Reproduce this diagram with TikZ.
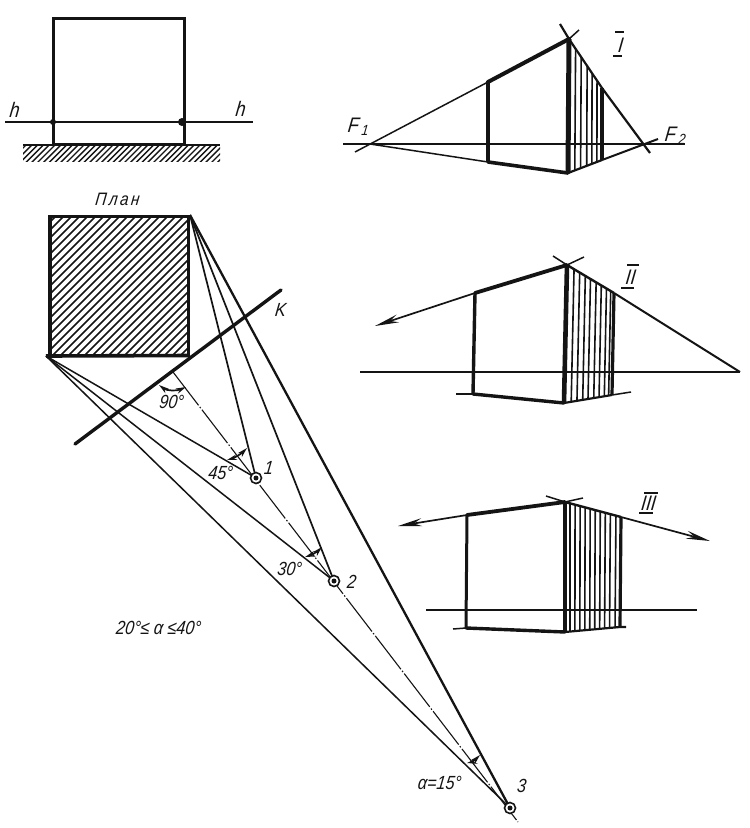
\documentclass[tikz,border=0pt]{standalone}
\usepackage{fontspec}
\setmainfont{Liberation Sans}[ItalicFeatures={FakeStretch=0.85,FakeSlant=0.12}]
\usetikzlibrary{arrows.meta,calc}
\definecolor{ink}{HTML}{141414}
\tikzset{
  thinl/.style={draw=ink,line width=1.5pt},
  medl/.style={draw=ink,line width=2.2pt},
  thickl/.style={draw=ink,line width=4pt,line cap=round},
  edgel/.style={draw=ink,line width=3.4pt},
  hatchl/.style={draw=ink,line width=1.6pt},
  shadel/.style={draw=ink,line width=1.4pt},
  axisl/.style={draw=ink,line width=1.1pt,dash pattern=on 42pt off 2pt on 1.5pt off 2pt},
  arrowl/.style={draw=ink,line width=1.7pt,-{Stealth[length=24pt,width=8pt,inset=8pt]}},
  arcl/.style={draw=ink,line width=1.7pt,{Stealth[length=10pt,width=5.5pt]}-{Stealth[length=10pt,width=5.5pt]}},
  lab/.style={font=\itshape\fontsize{19}{19}\selectfont,text=ink,inner sep=0pt},
  biglab/.style={font=\itshape\fontsize{21}{21}\selectfont,text=ink,inner sep=0pt},
  marker/.style={circle,draw=ink,line width=1.6pt,minimum size=11pt,inner sep=0pt,fill=white},
  dotm/.style={circle,fill=ink,minimum size=5pt,inner sep=0pt}
}
\begin{document}
\begin{tikzpicture}[x=1pt,y=-1pt]
\useasboundingbox[fill=white] (0,0) rectangle (750,828);
% ---------- elevation
\begin{scope}
 \clip (23,146) rectangle (220,161);
 \foreach \k in {0,5.8,...,230}{\draw[shadel] (8+\k,163)--(26+\k,145);}
\end{scope}
\draw[thinl,line width=1.6pt] (23,145)--(220,145);
\draw[edgel,line width=3pt] (53.5,145)--(53.5,18)--(184.5,18)--(184.5,145);
\draw[medl] (53,144.5)--(183,144.5);
\draw[thinl] (5,122)--(253,122);
\fill[ink] (53,122) circle (3) (182,122) circle (4);
\node[biglab] (hl) at (14,110) {h};
\node[biglab] (hr) at (240,109) {h};
% ---------- plan
\node[lab,font=\itshape\fontsize{18}{18}\selectfont] (plan) at (117,199) {\addfontfeature{LetterSpace=14}План};
\begin{scope}
 \clip (50,216) rectangle (188,356);
 \foreach \k in {0,8,...,295}{\draw[shadel,line width=1.7pt] (\k-100,356)--(\k+41,215);}
\end{scope}
\coordinate (PTR) at (190,215);
\coordinate (PBL) at (46,356);
\coordinate (P1) at (256,478);
\coordinate (P2) at (334,581);
\coordinate (P3) at (510,808);
\coordinate (KA) at (75,444);
\coordinate (KB) at (281,290);
\coordinate (AX) at (173,372);
\coordinate (AE) at (518,822);
\draw[axisl] (AX)--(AE);
\draw[thinl,line width=1.7pt] (PTR)--(P1);
\draw[thinl,line width=1.7pt] (PTR)--(P2);
\draw[thinl,line width=2.3pt] (PTR)--(P3);
\draw[thinl] (PBL)--(P1);
\draw[thinl] (PBL)--(P2);
\draw[thinl] (PBL)--(P3);
\draw[edgel,line width=3.6pt] (50,355.5) rectangle (188.5,216.5);
\draw[edgel,line width=3.6pt] (PBL)--(190,355.5);
\draw[thickl,line width=3.4pt] (KA)--(KB);
\node[marker] (M1) at (P1) {}; \node[dotm] at (P1) {};
\node[marker] (M2) at (P2) {}; \node[dotm] at (P2) {};
\node[marker] (M3) at (P3) {}; \node[dotm] at (P3) {};
\draw[arcl] (159,385) .. controls (167,391) and (177,391) .. (186,387);
\draw[arcl] (227,460) .. controls (234,458) and (241,454) .. (247,448);
\draw[arcl] (305,557) .. controls (311,555) and (317,552) .. (322,547);
\draw[arcl] (467,763) .. controls (472,762) and (476,759) .. (480,755);
\node[lab] (t90) at (171,402) {90°};
\node[lab] (t45) at (220,473) {45°};
\node[lab] (t1) at (268,468) {1};
\node[lab] (t30) at (289,569) {30°};
\node[lab] (t2) at (351,582) {2};
\node[lab] (t3) at (521,786) {3};
\node[lab] (ta) at (439,783) {α=15°};
\node[lab] (tk) at (280,310) {K};
\node[lab] (trange) at (158,628) {20°≤ α ≤40°};
% ---------- figure I
\coordinate (Ff) at (370,144); \coordinate (Fs) at (643,144);
\coordinate (Int) at (569,39); \coordinate (Inb) at (568,173);
\coordinate (Ilt) at (488,82); \coordinate (Ilb) at (488,162);
\coordinate (Irt) at (602,88); \coordinate (Irb) at (602,160);
\foreach \t in {0.2,0.37,0.55,0.7,0.85}{\draw[hatchl] ($(Int)!\t!(Irt)$)--($(Inb)!\t!(Irb)$);}
\draw[thinl] (343,144)--(685,144);
\draw[thinl] (355,152)--(Ilt);
\draw[thickl] (Ilt)--(Int);
\draw[thinl] (Int)--(579,30);
\draw[thinl,line width=2.2pt] (560,24)--(Int)--(Irt)--(650,153);
\draw[thinl] (Ff)--(Ilb);
\draw[thickl,line width=3.6pt] (Ilb)--(Inb);
\draw[thinl,line width=2.2pt] (Inb)--(Irb);
\draw[thinl,line width=2pt] (Irb)--(658,139);
\draw[edgel,line width=3.6pt] (Ilt)--(Ilb);
\draw[edgel,line width=5pt] (Int)--(Inb);
\draw[edgel,line width=3.2pt] (Irt)--(Irb);
\node[biglab] (tf1) at (358,127) {F\kern3pt\textsubscript{1}};
\node[biglab] (tf2) at (675,136) {F\kern3pt\textsubscript{2}};
\node[biglab] (tI) at (620,45) {I};
\draw[thinl] (615,32)--(624,32) (613,56)--(622,56);
% ---------- figure II
\coordinate (IInt) at (567,265); \coordinate (IInb) at (564,403);
\coordinate (IIlt) at (475,293); \coordinate (IIlb) at (473,394);
\coordinate (IIrt) at (614,293); \coordinate (IIrb) at (612,395);
\foreach \t in {0.15,0.27,0.39,0.5,0.62,0.73,0.84,0.93}{\draw[hatchl] ($(IInt)!\t!(IIrt)$)--($(IInb)!\t!(IIrb)$);}
\draw[thinl] (360,372)--(740,372);
\draw[arrowl] (IIlt)--(375,326);
\draw[thickl,line width=3.8pt] (IIlt)--(IInt);
\draw[thinl] (IInt)--(584,257);
\draw[thinl] (553,256)--(IInt);
\draw[thinl,line width=2.4pt] (IInt)--(IIrt);
\draw[thinl,line width=2pt] (IIrt)--(740,372);
\draw[thinl] (456,394)--(IIlb);
\draw[thickl,line width=3.4pt] (IIlb)--(IInb);
\draw[thinl,line width=2.2pt] (IInb)--(IIrb);
\draw[thinl] (IIrb)--(631,392);
\draw[edgel] (IIlt)--(IIlb);
\draw[edgel,line width=4.6pt] (IInt)--(IInb);
\draw[edgel,line width=3.2pt] (IIrt)--(IIrb);
\node[biglab] (tII) at (630,277) {II};
\draw[thinl] (627,265)--(639,265) (621,288)--(634,288);
% ---------- figure III
\coordinate (IIInt) at (565,502); \coordinate (IIInb) at (565,632);
\coordinate (IIIlt) at (467,515); \coordinate (IIIlb) at (466,628);
\coordinate (IIIrt) at (621,517); \coordinate (IIIrb) at (620,627);
\foreach \t in {0.09,0.18,0.27,0.36,0.45,0.54,0.63,0.72,0.81,0.91}{\draw[hatchl] ($(IIInt)!\t!(IIIrt)$)--($(IIInb)!\t!(IIIrb)$);}
\draw[thinl] (426,610)--(697,610);
\draw[arrowl] (IIIlt)--(398,526);
\draw[arrowl] (IIIrt)--(710,541);
\draw[thickl,line width=3.8pt] (IIIlt)--(IIInt);
\draw[thinl] (546,496)--(IIInt)--(583,498);
\draw[thinl,line width=2.4pt] (IIInt)--(IIIrt);
\draw[thinl] (453,629)--(IIIlb);
\draw[thickl,line width=3.4pt] (IIIlb)--(IIInb);
\draw[thinl,line width=2.2pt] (IIInb)--(IIIrb)--(626,627);
\draw[edgel,line width=3pt] (IIIlt)--(IIIlb);
\draw[edgel,line width=4.2pt] (IIInt)--(IIInb);
\draw[edgel,line width=3.2pt] (IIIrt)--(IIIrb);
\node[biglab] (tIII) at (648,503) {III};
\draw[thinl] (644,493)--(658,493) (639,513)--(653,513);
\end{tikzpicture}
\end{document}
